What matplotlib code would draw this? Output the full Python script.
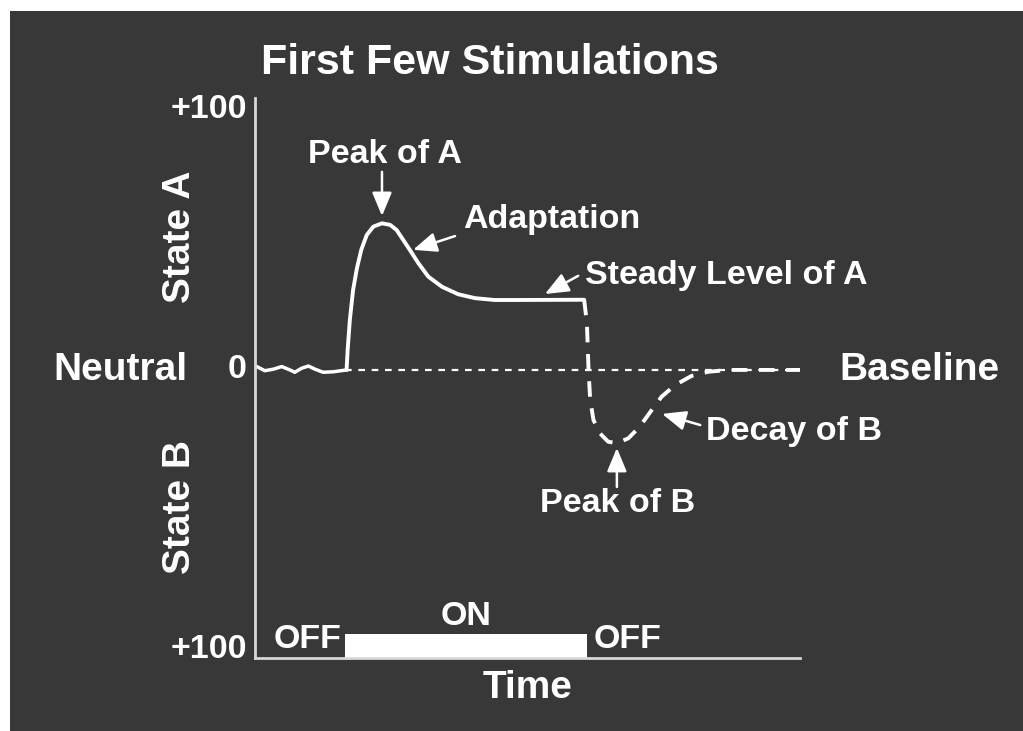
import numpy as np
import matplotlib
import matplotlib.pyplot as plt

# response before the stimulus (small wobble around neutral)
pre_t = [0.3, 1.8, 3.4, 4.9, 6.4, 7.3, 8.6, 9.8, 11.0, 12.5, 14.4, 16.8]
pre_v = [1.3, -0.3, 0.3, 1.3, 0.0, -0.9, 0.7, 1.5, 0.3, -0.9, -0.7, 0.0]

# state A while stimulus is ON
a_t = [16.8, 17.0, 17.4, 18.0, 18.7, 19.5, 20.5, 21.7, 23.3, 24.8, 26.0, 27.2, 28.4,
       30.0, 31.8, 34.3, 37.3, 40.4, 44.0, 47.7, 60.4]
a_v = [0.0, 7.7, 19.2, 30.8, 39.1, 46.2, 51.9, 55.1, 56.4, 55.8, 53.8, 50.0, 46.2,
       41.0, 35.9, 32.0, 29.1, 27.6, 26.9, 26.9, 27.0]

# state B after stimulus OFF
b_t = [60.4, 60.9, 61.2, 61.5, 62.1, 63.3, 64.8, 66.4, 68.5, 70.6, 72.8, 74.6, 77.1,
       80.1, 83.2, 86.8, 100.0]
b_v = [27.0, 17.9, 0.0, -11.5, -19.2, -24.4, -27.6, -28.2, -26.3, -21.8, -15.4, -10.3,
       -5.8, -2.3, -0.7, 0.0, 0.0]

stim_on = 16.6
stim_off = 61.0

bg = '#383838'
fg = 'white'
matplotlib.rc('font', family='Liberation Sans', weight='bold', size=24)

fig = plt.figure(figsize=(10.23, 7.31), dpi=100)
fig.patch.set_facecolor('white')
# dark panel (white margin only on left / top)
back = fig.add_axes([10/1023, 0, 1 - 10/1023, 1 - 11/731], zorder=-1)
back.set_facecolor(bg)
back.set_xticks([])
back.set_yticks([])
for s in back.spines.values():
    s.set_visible(False)

ax = fig.add_axes([255/1023, 73/731, 545/1023, 560/731])
ax.set_facecolor('none')
ax.set_xlim(0, 100)
ax.set_ylim(-110.8, 104.6)
for s in ['top', 'right']:
    ax.spines[s].set_visible(False)
for s in ['left', 'bottom']:
    ax.spines[s].set_color('#d8d8d8')
    ax.spines[s].set_linewidth(2)
ax.set_xticks([])
ax.set_yticks([])

# curves
ax.plot(pre_t, pre_v, color=fg, lw=2.5, solid_joinstyle='round')
ax.plot(a_t, a_v, color=fg, lw=2.8, solid_joinstyle='round', solid_capstyle='round')
ax.plot([stim_on, 100], [0, 0], color=fg, lw=1.6, dashes=(3, 3))
ax.plot(b_t, b_v, color=fg, lw=2.8, dashes=(4, 3))

# stimulus bar
ax.add_patch(plt.Rectangle((stim_on, -110.8), stim_off - stim_on, 9.3, facecolor=fg,
                           edgecolor='none', clip_on=False))

kw = dict(color=fg, fontweight='bold', fontsize=24.5, clip_on=False)
big = dict(color=fg, fontweight='bold', fontsize=28, clip_on=False)
ax.text(-1.5, 100, '+100', ha='right', va='center', **kw)
ax.text(-1.5, 0, '0', ha='right', va='center', **kw)
ax.text(-1.5, -107.7, '+100', ha='right', va='center', **kw)
ax.text(-24.6, 0, 'Neutral', ha='center', va='center', **big)
ax.text(122, 0, 'Baseline', ha='center', va='center', **big)
ax.text(-13.8, 51.2, 'State A', ha='center', va='center', rotation=90, **big)
ax.text(-13.8, -52.7, 'State B', ha='center', va='center', rotation=90, **big)
ax.text(9.7, -103.8, 'OFF', ha='center', va='center', **kw)
ax.text(38.7, -95.0, 'ON', ha='center', va='center', **kw)
ax.text(68.3, -103.8, 'OFF', ha='center', va='center', **kw)
ax.text(50.1, -122.3, 'Time', ha='center', va='center', **big)

arrow = dict(arrowstyle='-|>,head_length=0.6,head_width=0.25', color=fg, lw=1.8,
             shrinkA=0, shrinkB=0)
ax.annotate('', xy=(23.3, 59.2), xytext=(23.3, 76.2), arrowprops=arrow, annotation_clip=False)
ax.text(23.9, 82.7, 'Peak of A', ha='center', va='center', **kw)
ax.annotate('', xy=(29.0, 46.2), xytext=(36.7, 51.5), arrowprops=arrow, annotation_clip=False)
ax.text(38.2, 57.7, 'Adaptation', ha='left', va='center', **kw)
ax.annotate('', xy=(53.2, 29.2), xytext=(59.3, 36.2), arrowprops=arrow, annotation_clip=False)
ax.text(60.6, 36.5, 'Steady Level of A', ha='left', va='center', **kw)
ax.annotate('', xy=(74.7, -16.9), xytext=(81.7, -21.2), arrowprops=arrow, annotation_clip=False)
ax.text(82.8, -23.8, 'Decay of B', ha='left', va='center', **kw)
ax.annotate('', xy=(66.4, -30.0), xytext=(66.4, -45.0), arrowprops=arrow, annotation_clip=False)
ax.text(66.6, -51.2, 'Peak of B', ha='center', va='center', **kw)

fig.text(490/1023, 1 - 63/731, 'First Few Stimulations', ha='center', va='center',
         color=fg, fontweight='bold', fontsize=31)

fig.savefig('out.png', dpi=100, facecolor=fig.get_facecolor())
